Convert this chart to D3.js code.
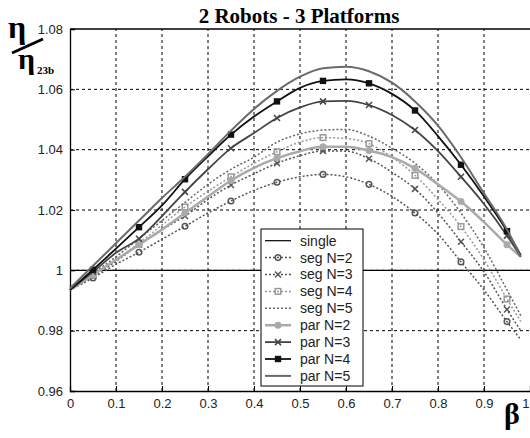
<!DOCTYPE html>
<html><head><meta charset="utf-8">
<script src="https://cdn.jsdelivr.net/npm/d3@7"></script>
<style>body{margin:0;background:#fff}svg{display:block}</style>
</head><body>
<svg id="c" width="530" height="438"></svg>
<script>
const betas = [0,0.05,0.1,0.15,0.2,0.25,0.3,0.35,0.4,0.45,0.5,0.55,0.6,0.65,0.7,0.75,0.8,0.85,0.9,0.95,0.98];
const singleBeta = [0,1];
const singleVals = [1,1];
const seg2 = [0.9935,0.9975,1.002,1.006,1.0103,1.0146,1.019,1.023,1.0265,1.0292,1.031,1.0318,1.031,1.0285,1.0245,1.019,1.012,1.0028,0.9935,0.983,0.977];
const seg3 = [0.9935,0.998,1.003,1.0085,1.0135,1.018,1.0235,1.0283,1.032,1.0355,1.038,1.0396,1.0395,1.037,1.0325,1.027,1.019,1.0095,0.9995,0.987,0.98];
const seg4 = [0.9935,0.9985,1.0035,1.009,1.015,1.021,1.0262,1.031,1.0355,1.0393,1.0425,1.044,1.0437,1.042,1.0375,1.0315,1.0235,1.0145,1.0035,0.9905,0.983];
const seg5 = [0.9935,0.999,1.0045,1.0105,1.0165,1.0225,1.0285,1.0335,1.0375,1.0425,1.0452,1.0465,1.0467,1.0445,1.0405,1.0355,1.0285,1.019,1.0075,0.9935,0.985];
const par2 = [0.9935,0.9985,1.0035,1.0085,1.0135,1.019,1.0245,1.0298,1.034,1.0372,1.0395,1.041,1.041,1.0397,1.0375,1.0338,1.0285,1.0228,1.016,1.0085,1.0045];
const par3 = [0.9935,0.9995,1.0058,1.0105,1.018,1.026,1.0335,1.0405,1.0455,1.0505,1.054,1.056,1.0562,1.0548,1.0515,1.0465,1.0395,1.031,1.022,1.0115,1.0045];
const par4 = [0.9935,1.0002,1.0072,1.0143,1.0215,1.0302,1.0378,1.045,1.051,1.056,1.0605,1.0628,1.0633,1.062,1.0585,1.053,1.0445,1.035,1.0245,1.013,1.005];
const par5 = [0.994,1.0015,1.009,1.0165,1.024,1.031,1.0385,1.0463,1.0535,1.0595,1.0642,1.067,1.0675,1.066,1.0622,1.056,1.048,1.0375,1.0255,1.0135,1.0045];
const markerIdx = [1,3,5,7,9,11,13,15,17,19];
const xTicks = [0,0.1,0.2,0.3,0.4,0.5,0.6,0.7,0.8,0.9,1];
const yTicks = [0.96,0.98,1,1.02,1.04,1.06,1.08];
const yTickLabels = ["0.96","0.98","1","1.02","1.04","1.06","1.08"];
const legendNames = ["single","seg N=2","seg N=3","seg N=4","seg N=5","par N=2","par N=3","par N=4","par N=5"];

const svg = d3.select("#c");
const x = d3.scaleLinear().domain([0,1]).range([70,530]);
const y = d3.scaleLinear().domain([0.96,1.08]).range([391,29]);

// grid
const g = svg.append("g");
g.selectAll(".vg").data(xTicks.filter(d=>d>0&&d<1)).join("line")
  .attr("x1",d=>x(d)).attr("x2",d=>x(d)).attr("y1",y(0.96)).attr("y2",y(1.08))
  .attr("stroke","#000").attr("stroke-width",1).attr("stroke-dasharray","3,3");
g.selectAll(".hg").data(yTicks.filter(d=>d>0.96&&d<1.08)).join("line")
  .attr("x1",x(0)).attr("x2",x(1)).attr("y1",d=>y(d)).attr("y2",d=>y(d))
  .attr("stroke","#000").attr("stroke-width",1).attr("stroke-dasharray","3,3");

// axes
const xAxis = d3.axisBottom(x).tickValues(xTicks).tickFormat(d=>d3.format("")(d)).tickSize(-5).tickPadding(8);
const yAxis = d3.axisLeft(y).tickValues(yTicks).tickFormat((d,i)=>yTickLabels[i]).tickSize(-5).tickPadding(7);
const ax = svg.append("g").attr("transform",`translate(0,${y(0.96)})`).call(xAxis);
const ay = svg.append("g").attr("transform",`translate(${x(0)},0)`).call(yAxis);
[ax,ay].forEach(a=>{
  a.select(".domain").attr("stroke","#000").attr("stroke-width",1.3);
  a.selectAll("text").attr("font-family","Liberation Sans, Arial, sans-serif").attr("font-size",13).attr("fill","#222");
  a.selectAll(".tick line").attr("stroke","#000");
});
// last x tick label sits at the window edge: keep it inside
ax.selectAll(".tick").filter(d=>d===1).select("text").attr("text-anchor","end").attr("dx","-1");
svg.append("line").attr("x1",x(0)).attr("x2",x(1)).attr("y1",y(1.08)).attr("y2",y(1.08)).attr("stroke","#000").attr("stroke-width",1.3);

const series = [
  {name:legendNames[0], xs:singleBeta, vals:singleVals, color:"#000", w:1.2, dash:null, marker:null},
  {name:legendNames[1], xs:betas, vals:seg2, color:"#555", w:1.5, dash:"2,2", marker:"circle"},
  {name:legendNames[2], xs:betas, vals:seg3, color:"#555", w:1.5, dash:"2,2", marker:"x"},
  {name:legendNames[3], xs:betas, vals:seg4, color:"#999", w:1.5, dash:"2,2", marker:"square"},
  {name:legendNames[4], xs:betas, vals:seg5, color:"#666", w:1.5, dash:"2,2", marker:null},
  {name:legendNames[5], xs:betas, vals:par2, color:"#aaa", w:2.5, dash:null, marker:"dot"},
  {name:legendNames[6], xs:betas, vals:par3, color:"#444", w:1.8, dash:null, marker:"x"},
  {name:legendNames[7], xs:betas, vals:par4, color:"#111", w:1.8, dash:null, marker:"fsquare"},
  {name:legendNames[8], xs:betas, vals:par5, color:"#6a6a6a", w:2, dash:null, marker:null}
];

function drawMarker(sel, type, cx, cy, color){
  if(type==="circle"){
    sel.append("circle").attr("cx",cx).attr("cy",cy).attr("r",2.8).attr("fill","none").attr("stroke",color).attr("stroke-width",1.5);
  } else if(type==="dot"){
    sel.append("circle").attr("cx",cx).attr("cy",cy).attr("r",3.5).attr("fill",color);
  } else if(type==="x"){
    sel.append("path").attr("d",`M${cx-3},${cy-3}L${cx+3},${cy+3}M${cx-3},${cy+3}L${cx+3},${cy-3}`).attr("stroke",color).attr("stroke-width",1.5);
  } else if(type==="square"){
    sel.append("rect").attr("x",cx-2.8).attr("y",cy-2.8).attr("width",5.6).attr("height",5.6).attr("fill","none").attr("stroke",color).attr("stroke-width",1.5);
  } else if(type==="fsquare"){
    sel.append("rect").attr("x",cx-3.2).attr("y",cy-3.2).attr("width",6.4).attr("height",6.4).attr("fill",color);
  }
}

const lineGen = d3.line().curve(d3.curveMonotoneX).x(d=>x(d[0])).y(d=>y(d[1]));
const plot = svg.append("g");
series.forEach(s=>{
  const pts = s.xs.map((b,i)=>[b,s.vals[i]]);
  plot.append("path").attr("d",lineGen(pts)).attr("fill","none").attr("stroke",s.color)
    .attr("stroke-width",s.w).attr("stroke-dasharray",s.dash);
  if(s.marker){
    markerIdx.forEach(i=>drawMarker(plot,s.marker,x(s.xs[i]),y(s.vals[i]),s.color));
  }
});

// legend
const lg = svg.append("g");
lg.append("rect").attr("x",261).attr("y",229).attr("width",102).attr("height",157).attr("fill","#fff").attr("stroke","#000").attr("stroke-width",1);
series.forEach((s,i)=>{
  const ly = 240.7 + i*16.9;
  lg.append("line").attr("x1",265).attr("x2",291).attr("y1",ly).attr("y2",ly).attr("stroke",s.color)
    .attr("stroke-width",s.w).attr("stroke-dasharray",s.dash);
  if(s.marker) drawMarker(lg,s.marker,278,ly,s.color);
  lg.append("text").attr("x",300).attr("y",ly).attr("dy","0.35em").attr("font-family","Liberation Sans, Arial, sans-serif")
    .attr("font-size",14).attr("fill","#222").text(s.name);
});

// title and labels
svg.append("text").attr("x",299).attr("y",23).attr("text-anchor","middle").attr("font-family","Liberation Serif, Times New Roman, serif")
  .attr("font-weight","bold").attr("font-size",21).attr("fill","#000").text("2 Robots - 3 Platforms");
const yl = svg.append("g").attr("font-family","Liberation Serif, Times New Roman, serif").attr("font-weight","bold").attr("fill","#000");
yl.append("text").attr("x",8).attr("y",38).attr("font-size",32).text("η");
yl.append("line").attr("x1",12).attr("y1",53).attr("x2",43).attr("y2",39).attr("stroke","#000").attr("stroke-width",3);
yl.append("text").attr("x",18).attr("y",69).attr("font-size",30).text("η");
yl.append("text").attr("x",37).attr("y",74).attr("font-size",11).text("23b");
svg.append("text").attr("x",504).attr("y",424).attr("font-family","Liberation Serif, Times New Roman, serif")
  .attr("font-weight","bold").attr("font-size",30).attr("fill","#000").text("β");
</script>
</body></html>
